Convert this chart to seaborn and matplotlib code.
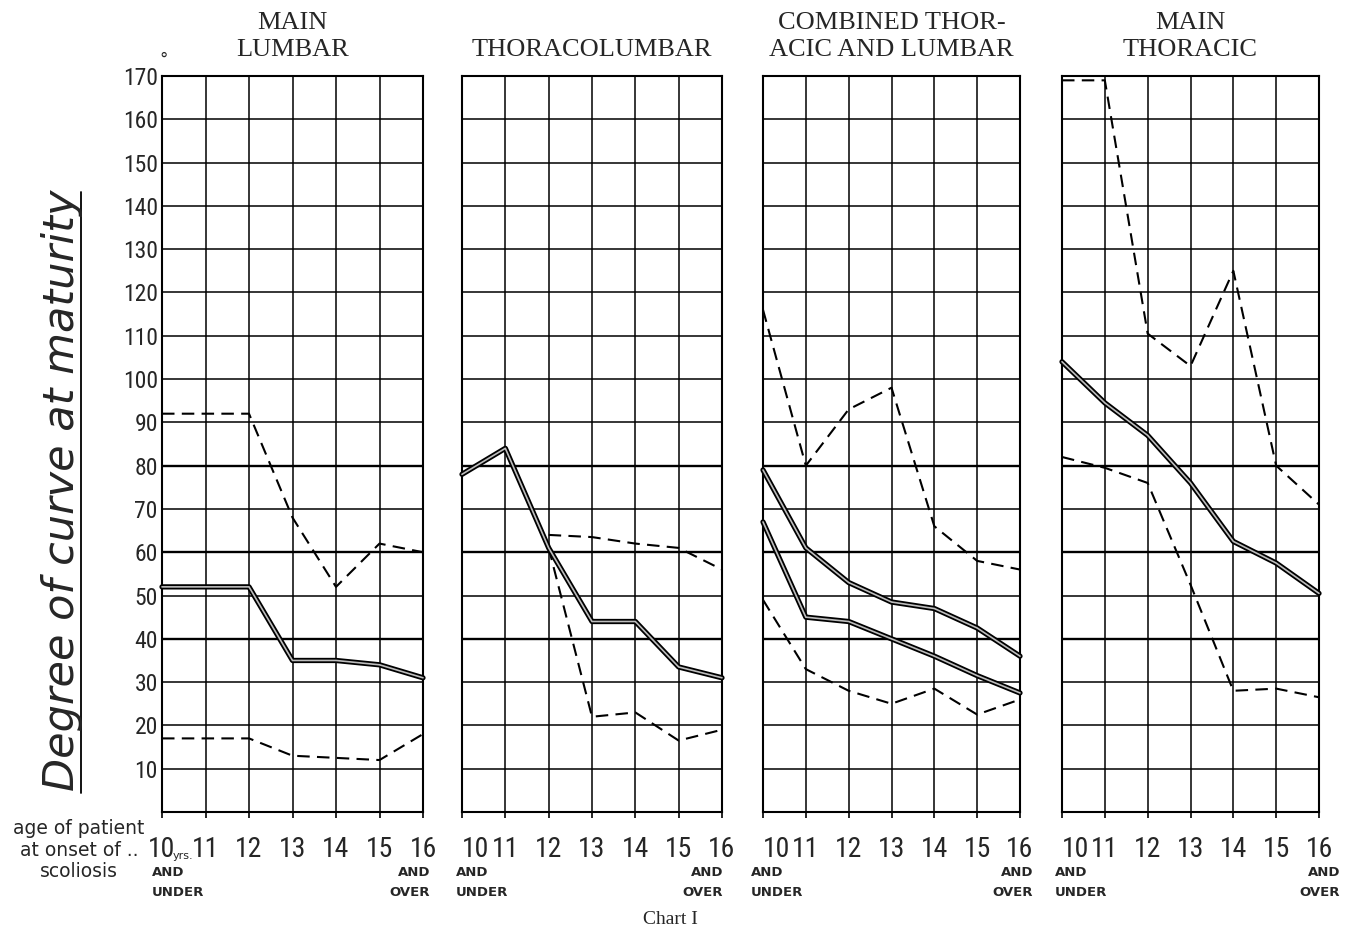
import numpy as np
import seaborn as sns
import matplotlib.pyplot as plt
from matplotlib import font_manager
from matplotlib.lines import Line2D

sns.set_style("white")

# ages at onset (x) and degrees at maturity (y)
ages = [10, 11, 12, 13, 14, 15, 16]
age_labels = ["10", "11", "12", "13", "14", "15", "16"]
degree_ticks = list(range(0, 171, 10))
degree_labels = [""] + [str(v) for v in degree_ticks[1:]]

titles = ["MAIN\nLUMBAR", "THORACOLUMBAR",
          "COMBINED THOR-\nACIC AND LUMBAR", "MAIN\nTHORACIC"]

# main lumbar
ml_high = [92, 92, 92, 68, 52, 62, 60]
ml_mean = [52, 52, 52, 35, 35, 34, 31]
ml_low = [17, 17, 17, 13, 12.5, 12, 18]

# thoracolumbar
tl_high = [np.nan, np.nan, 64, 63.5, 62, 61, 56]
tl_mean = [78, 84, 61, 44, 44, 33.5, 31]
tl_low = [np.nan, np.nan, 61, 22, 23, 16.5, 19]

# combined thoracic and lumbar
ctl_high = [116, 80, 93, 98, 66, 58, 56]
ctl_mean_thor = [79, 61, 53, 48.5, 47, 42.5, 36]
ctl_mean_lumb = [67, 45, 44, 40, 36, 31.5, 27.5]
ctl_low = [49, 33, 28, 25, 28.5, 22.5, 26]

# main thoracic
mt_high = [169, 169, 110.5, 103, 125, 80, 71]
mt_mean = [104, 94.5, 87, 76, 62.5, 57.5, 50.5]
mt_low = [82, 79.5, 76, 52.5, 28, 28.5, 26.5]

panels = [
    (ml_high, [ml_mean], ml_low),
    (tl_high, [tl_mean], tl_low),
    (ctl_high, [ctl_mean_thor, ctl_mean_lumb], ctl_low),
    (mt_high, [mt_mean], mt_low),
]

installed = {f.name for f in font_manager.fontManager.ttflist}


def pick(*names):
    for n in names:
        if n in installed:
            return n
    return "DejaVu Sans"


digit_font = pick("Liberation Sans Narrow", "Roboto Condensed", "Liberation Serif")
serif_font = pick("Liberation Serif", "DejaVu Serif")

W, H = 1358, 934
fig = plt.figure(figsize=(W / 100, H / 100), dpi=100)
fig.patch.set_facecolor("white")

lefts = [162, 462, 763, 1062]
widths = [261, 260, 257, 257]
top, bottom = 76, 812
under_dx = [-10, -6, -12, -7]
over_dx = [7, 1, 13, 21]

for i, (high, means, low) in enumerate(panels):
    ax = fig.add_axes([lefts[i] / W, 1 - bottom / H, widths[i] / W, (bottom - top) / H])
    ax.set_facecolor("white")
    ax.set_axisbelow(True)
    ax.grid(True, color="black", linewidth=1.1)
    for yy in (40, 60, 80):
        ax.axhline(yy, color="black", linewidth=1.7, zorder=1)

    dash = (0, (6, 3.5))
    sns.lineplot(x=ages, y=high, ax=ax, color="black", linewidth=1.5,
                 linestyle=dash, errorbar=None, clip_on=False, zorder=3)
    sns.lineplot(x=ages, y=low, ax=ax, color="black", linewidth=1.5,
                 linestyle=dash, errorbar=None, clip_on=False, zorder=3)
    for m in means:
        sns.lineplot(x=ages, y=m, ax=ax, color="black", linewidth=3.8,
                     errorbar=None, clip_on=False, zorder=4)
        sns.lineplot(x=ages, y=m, ax=ax, color="#bdbdbd", linewidth=1.2,
                     errorbar=None, clip_on=False, zorder=5)

    ax.set_xlim(10, 16)
    ax.set_ylim(0, 170)
    ax.set_xticks(ages)
    ax.set_yticks(degree_ticks)
    ax.set_xticklabels(age_labels, fontsize=20, family=digit_font)
    if i > 0:
        ax.get_xticklabels()[0].set_horizontalalignment("left")
    ax.set_xlabel("")
    ax.set_ylabel("")
    ax.tick_params(axis="x", direction="out", length=4, width=1.2, pad=13,
                   bottom=True, color="black")
    if i == 0:
        ax.set_yticklabels(degree_labels, fontsize=17, family=digit_font)
        ax.tick_params(axis="y", length=0, pad=3)
        ax.annotate("°", xy=(10, 170), xytext=(-2, 5), textcoords="offset points",
                    ha="left", va="bottom", fontsize=12)
        ax.annotate("yrs.", xy=(10, 0), xycoords=("data", "axes fraction"),
                    xytext=(8, -28), textcoords="offset points",
                    ha="left", va="top", fontsize=8)
    else:
        ax.set_yticklabels([])
        ax.tick_params(axis="y", length=0)

    for s in ax.spines.values():
        s.set_color("black")
        s.set_linewidth(1.5)

    ax.annotate(titles[i], xy=(0.5, 1), xycoords="axes fraction",
                xytext=(0, 10.5), textcoords="offset points", ha="center",
                va="bottom", fontsize=19, family=serif_font, linespacing=1.3)
    ax.annotate("AND\nUNDER", xy=(10, 0), xycoords=("data", "axes fraction"),
                xytext=(under_dx[i] * 0.72, -39), textcoords="offset points",
                ha="left", va="top", fontsize=9.5, fontweight="bold",
                linespacing=1.7)
    ax.annotate("AND\nOVER", xy=(16, 0), xycoords=("data", "axes fraction"),
                xytext=(over_dx[i] * 0.72, -39), textcoords="offset points",
                ha="right", va="top", fontsize=9.5, fontweight="bold",
                linespacing=1.7, multialignment="right")

fig.text(62 / W, 1 - 490 / H, "Degree of curve at maturity", rotation=90,
         ha="center", va="center", fontsize=31, style="italic",
         family="DejaVu Sans")
fig.add_artist(Line2D([81 / W, 81 / W], [1 - 793 / H, 1 - 192 / H],
                      transform=fig.transFigure, color="black", linewidth=1.3))

fig.text(79 / W, 1 - 850 / H, "age of patient\nat onset of ..\nscoliosis",
         ha="center", va="center", fontsize=13.5, linespacing=1.15)
fig.text(670 / W, 1 - 920 / H, "Chart I", ha="center", va="center",
         fontsize=14, family=serif_font)

fig.savefig("out.png", dpi=100, facecolor="white")
